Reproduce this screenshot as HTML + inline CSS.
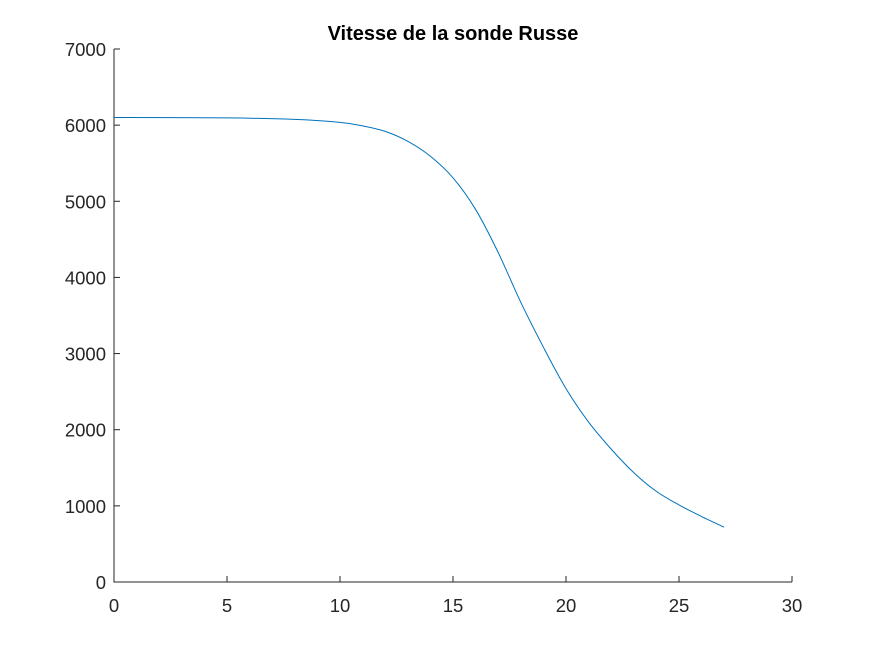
<!DOCTYPE html>
<html><head><meta charset="utf-8"><style>
body{margin:0;background:#fff;}
svg text{font-family:"Liberation Sans",Arial,sans-serif;fill:#262626;}
</style></head><body>
<svg id="chart" width="875" height="656" xmlns="http://www.w3.org/2000/svg">
<rect width="875" height="656" fill="#fff"/>
<text x="453" y="40" text-anchor="middle" font-size="20" font-weight="bold" style="fill:#000">Vitesse de la sonde Russe</text>
<g id="axes"></g>
<path id="line" fill="none" stroke="#0072bd" stroke-width="1"/>
</svg>
<script>
const xs = [0,5,8,10,11,12,13,14,15,16,17,18,19,20,21,22,23,24,25,26,27];
const vs = [6100,6095,6075,6036,5990,5918,5787,5591,5308,4893,4327,3673,3084,2540,2100,1745,1436,1190,1012,860,720];
const xTicks = [0,5,10,15,20,25,30];
const yTicks = [0,1000,2000,3000,4000,5000,6000,7000];
const X0=114,X1=792,Y0=582,Y1=49;
const sx=v=>X0+(v-0)/30*(X1-X0);
const sy=v=>Y0-(v-0)/7000*(Y0-Y1);
const NS="http://www.w3.org/2000/svg";
const ax=document.getElementById('axes');
function mk(t,a){const e=document.createElementNS(NS,t);for(const k in a)e.setAttribute(k,a[k]);return e;}
let e=mk('path',{d:`M${X0},${Y1}V${Y0}H${X1}`,fill:'none',stroke:'#262626','stroke-width':1});


ax.appendChild(e);
xTicks.forEach(t=>{
 const x=sx(t);
 let l=mk('line',{x1:x,x2:x,y1:Y0,y2:Y0-6,stroke:'#262626'});
 
 
 ax.appendChild(l);
 let tx=mk('text',{x:x,y:Y0+30,'text-anchor':'middle','font-size':18.5});
 tx.textContent=t;
 
 
 ax.appendChild(tx);
});
yTicks.forEach(t=>{
 const y=sy(t);
 let l=mk('line',{x1:X0,x2:X0+6,y1:y,y2:y,stroke:'#262626'});
 
 
 ax.appendChild(l);
 let tx=mk('text',{x:X0-8,y:y+7,'text-anchor':'end','font-size':18.5});
 tx.textContent=t;
 
 
 ax.appendChild(tx);
});
const pts=xs.map((x,i)=>[sx(x),sy(vs[i])]);
let d=`M${pts[0][0]},${pts[0][1]}`;
for(let i=0;i<pts.length-1;i++){
 const p0=pts[Math.max(0,i-1)],p1=pts[i],p2=pts[i+1],p3=pts[Math.min(pts.length-1,i+2)];
 const c1=[p1[0]+(p2[0]-p0[0])/6,p1[1]+(p2[1]-p0[1])/6];
 const c2=[p2[0]-(p3[0]-p1[0])/6,p2[1]-(p3[1]-p1[1])/6];
 d+=`C${c1[0]},${c1[1]} ${c2[0]},${c2[1]} ${p2[0]},${p2[1]}`;
}
document.getElementById('line').setAttribute('d',d);
</script>
</body></html>
